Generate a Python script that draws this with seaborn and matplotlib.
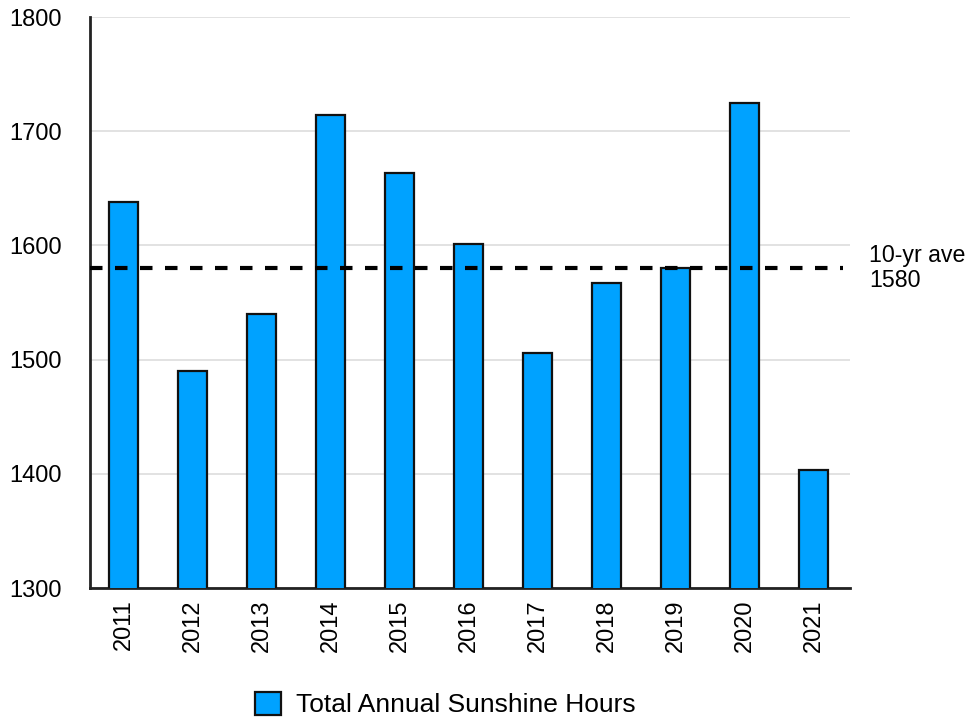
"""
Total annual sunshine hours, 2011-2021, with the 10-year average marked.
"""

import pandas as pd
import matplotlib.pyplot as plt
from matplotlib.patches import Patch
import seaborn as sns

# ─── Data ───────────────────────────────────────────────────────────────────────

years = ["2011", "2012", "2013", "2014", "2015", "2016",
         "2017", "2018", "2019", "2020", "2021"]
sunshine_hours = [1638, 1490, 1540, 1714, 1663, 1601,
                  1506, 1567, 1580, 1725, 1403]
ten_year_ave = 1580
y_ticks = [1300, 1400, 1500, 1600, 1700, 1800]
series_label = "Total Annual Sunshine Hours"

df = pd.DataFrame({"year": years, "hours": sunshine_hours})

# ─── Style ──────────────────────────────────────────────────────────────────────

sns.set_style("white")
plt.rcParams["font.family"] = ["Liberation Sans", "DejaVu Sans"]
plt.rcParams["text.color"] = "black"
plt.rcParams["xtick.color"] = "black"
plt.rcParams["ytick.color"] = "black"

BAR_COLOR = "#00A2FF"

fig = plt.figure(figsize=(9.72, 7.24), dpi=100)
ax = fig.add_axes([0.0926, 0.1878, 0.782, 0.7887])

sns.barplot(data=df, x="year", y="hours", color=BAR_COLOR, saturation=1,
            width=0.42, edgecolor="#111111", linewidth=1.6, ax=ax, zorder=3)

# Average line + label
ax.axhline(ten_year_ave, xmin=0, xmax=0.99, color="black", linestyle=(0, (3, 3)),
           linewidth=3, zorder=4)
ax.text(1.025, ten_year_ave, f"10-yr ave\n{ten_year_ave}", transform=ax.get_yaxis_transform(),
        ha="left", va="center", fontsize=16.7, linespacing=1.1)

ax.set_ylim(1300, 1800)
ax.set_xlim(-0.49, 10.53)
ax.set_yticks(y_ticks)
ax.set_yticklabels([str(t) for t in y_ticks], fontsize=17)
ax.tick_params(axis="x", labelrotation=90, labelsize=17, length=0, pad=8)
ax.tick_params(axis="y", length=0, pad=20)
ax.yaxis.grid(True, color="#dddddd", linewidth=1.2, zorder=0)
ax.set_axisbelow(True)
ax.set_xlabel("")
ax.set_ylabel("")

for side in ["top", "right"]:
    ax.spines[side].set_visible(False)
for side in ["left", "bottom"]:
    ax.spines[side].set_color("#222222")
    ax.spines[side].set_linewidth(2)

handles = [Patch(facecolor=BAR_COLOR, edgecolor="#111111", linewidth=1.6, label=series_label)]
fig.legend(handles=handles, loc="center", bbox_to_anchor=(0.458, 0.027), frameon=False,
           fontsize=19, handlelength=1.0, handleheight=1.0, handletextpad=0.55)

fig.savefig("out.png", dpi=100)
plt.close(fig)
